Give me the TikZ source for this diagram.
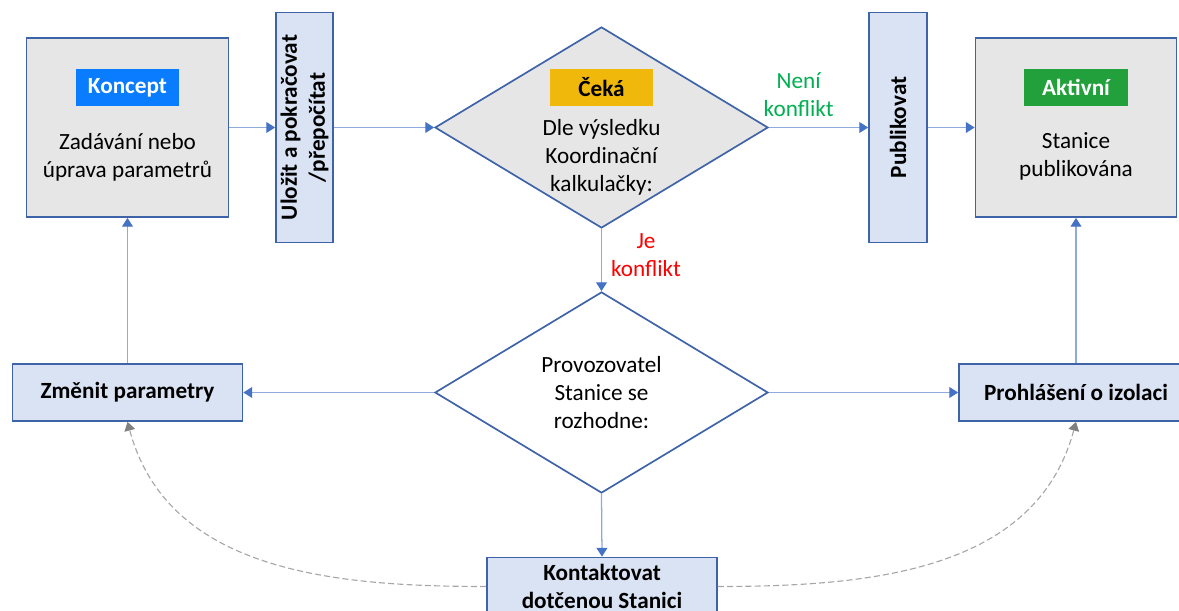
\documentclass[tikz,border=0pt]{standalone}
\usepackage{fontspec}
\setmainfont{Carlito}
\usepackage{tikz}
\usetikzlibrary{shapes.geometric}
\usetikzlibrary{arrows.meta}

\definecolor{boxline}{HTML}{3F63A8}
\definecolor{linecol}{HTML}{8FAADC}
\definecolor{tipcol}{HTML}{4472C4}
\definecolor{statefill}{HTML}{E6E6E6}
\definecolor{stepfill}{HTML}{DAE3F3}
\definecolor{konceptcol}{HTML}{0A7CFF}
\definecolor{cekacol}{HTML}{F0B80A}
\definecolor{aktivcol}{HTML}{22A03C}
\definecolor{anocol}{HTML}{00B050}
\definecolor{nenicol}{HTML}{FF0000}
\definecolor{dashcol}{HTML}{A6A6A6}
\definecolor{dashtip}{HTML}{808080}

\begin{document}
\begin{tikzpicture}[x=0.025cm,y=-0.025cm,
font=\fontsize{16.5}{19.9}\selectfont,
stav/.style={draw=boxline,line width=1.2pt,fill=statefill,minimum width=5.05cm,minimum height=4.475cm},
stitek/.style={minimum width=2.575cm,minimum height=0.925cm,inner sep=0pt,font=\fontsize{16.5}{19.9}\selectfont\bfseries},
krok/.style={draw=boxline,line width=1.2pt,fill=stepfill,align=center,font=\fontsize{16.5}{19.9}\selectfont\bfseries},
volba/.style={draw=boxline,line width=1.2pt,diamond,aspect=1.66,minimum width=8.325cm,minimum height=5.025cm,inner sep=0pt,align=center},
sipka/.style={draw=linecol,line width=0.9pt,-{Triangle[length=0.22cm,width=0.27cm,color=tipcol]}},
carka/.style={draw=dashcol,line width=0.8pt,dash pattern=on 0.15cm off 0.08cm,-{Triangle[length=0.22cm,width=0.27cm,color=dashtip]}}
]
\clip (0,0) rectangle (1179,611);
\draw
(127.5,127.5) node[stav](koncept){}
(304.5,127.5) node[krok,minimum width=1.425cm,minimum height=5.75cm](ulozit){}
(601.5,127.5) node[volba,fill=statefill](ceka){}
(898,127.5) node[krok,minimum width=1.45cm,minimum height=5.75cm](publ){}
(1076,127.5) node[stav,minimum width=5.025cm](aktiv){}
(601.5,392.5) node[volba,fill=white](rozh){Provozovatel\\Stanice se\\rozhodne:}
(127.5,392.5) node[krok,minimum width=5.75cm,minimum height=1.425cm](zmenit){Změnit parametry}
(1076,392.5) node[krok,minimum width=5.85cm,minimum height=1.425cm](prohl){Prohlášení o izolaci}
(602,586.5) node[krok,minimum width=5.75cm,minimum height=1.45cm](kontakt){Kontaktovat\\dotčenou Stanici}
;
% stitky stavu
\draw
(127.5,87.5) node[stitek,fill=konceptcol,text=white](koncepttag){Koncept}
(601.5,87.5) node[stitek,fill=cekacol,text=black](cekatag){Čeká}
(1076,87.5) node[stitek,fill=aktivcol,text=white](aktivtag){Aktivní}
(127.5,157) node[align=center](koncepttxt){Zadávání nebo\\úprava parametrů}
(601.5,157) node[align=center](cekatxt){Dle výsledku\\Koordinační\\kalkulačky:}
(1076,156) node[align=center](aktivtxt){Stanice\\publikována}
;
\node[rotate=90,align=center,font=\fontsize{16.5}{19.9}\selectfont\bfseries](ulozittxt) at (ulozit){Uložit a pokračovat\\/přepočítat};
\node[rotate=90,font=\fontsize{16.5}{19.9}\selectfont\bfseries](publtxt) at (publ){Publikovat};

\foreach \x/\y in {koncept.east/ulozit.west, ulozit.east/ceka.west, publ.east/aktiv.west,
rozh.west/zmenit.east, rozh.east/prohl.west, rozh.south/kontakt.north,
zmenit.north/koncept.south, prohl.north/aktiv.south}{
\draw[sipka](\x)--(\y);
}
\draw[sipka](ceka.east)--node[pos=0.3,above=4pt,align=center,text=anocol]{Není\\konflikt}(publ.west);
\draw[sipka](ceka.south)--node[pos=0.42,right=3pt,align=center,text=nenicol]{Je\\konflikt}(rozh.north);
\draw[carka](kontakt.west) to[out=180,in=-75] (zmenit.south);
\draw[carka](kontakt.east) to[out=0,in=-105] (prohl.south);
\end{tikzpicture}
\end{document}
